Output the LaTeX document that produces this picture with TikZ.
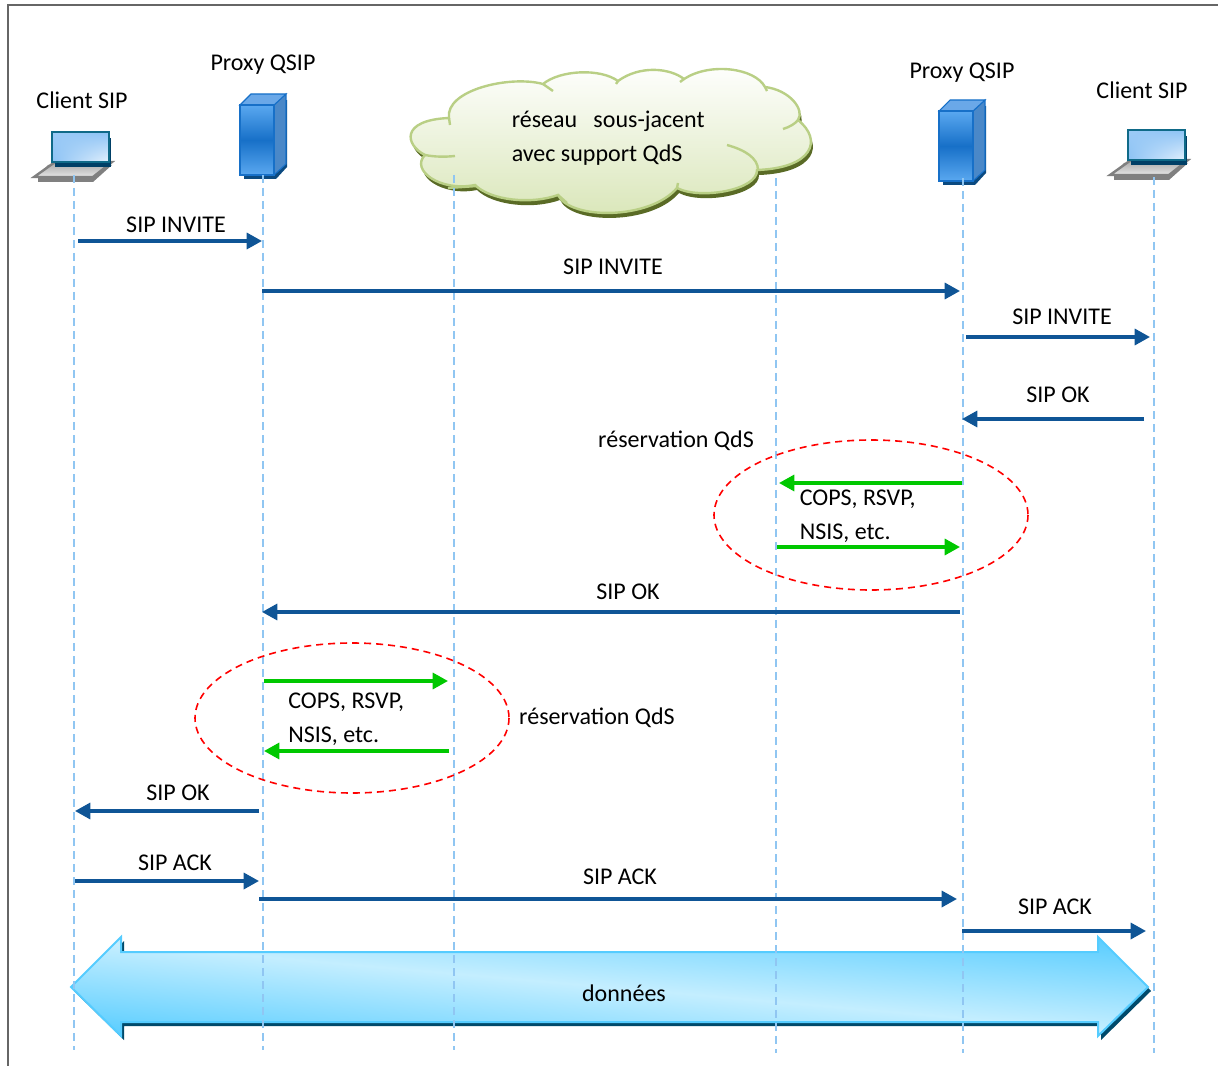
\documentclass[tikz,border=0pt]{standalone}
\usepackage{fontspec}
\setmainfont{Carlito}
\usepackage{tikz}
\usetikzlibrary{arrows.meta,shadings}

\definecolor{bleuMsg}{HTML}{0F5596}
\definecolor{vertResa}{HTML}{00C800}
\definecolor{bleuVie}{HTML}{90C6F2}
\definecolor{grisCadre}{HTML}{666666}
\definecolor{bordNuage}{HTML}{B9CF85}
\definecolor{basNuage}{HTML}{D9E6B8}
\definecolor{ombreNuage}{HTML}{5A6B26}
\definecolor{bordFleche}{HTML}{55CCFF}
\definecolor{clairFleche}{HTML}{C4EEFF}
\definecolor{ombreFleche}{HTML}{004A6B}
\definecolor{servClair}{HTML}{5AA8F0}
\definecolor{servFonce}{HTML}{1770C8}
\definecolor{servCote}{HTML}{4A88C8}
\definecolor{servHaut}{HTML}{6AA8E8}
\definecolor{servOmbre}{HTML}{0B4A80}
\definecolor{ecranBord}{HTML}{0F6A88}
\definecolor{ecranOmbre}{HTML}{003F66}

\tikzset{
	txt/.style={font=\fontsize{18}{25.5}\selectfont,inner sep=0pt,align=left,text=black},
	msgbleu/.style={line width=2.5pt,draw=bleuMsg,-{Triangle[length=11.5pt,width=12pt]}},
	msgvert/.style={line width=2.5pt,draw=vertResa,-{Triangle[length=11.5pt,width=12pt]}},
	viedash/.style={line width=1.5pt,draw=bleuVie,dash pattern=on 6pt off 3.75pt},
	resadash/.style={line width=1.2pt,draw=red,dash pattern=on 5.25pt off 3.75pt},
	servpic/.pic={
		\fill[fill=servOmbre] (4,0) -- (4,74) -- (36,74) -- (47,62) -- (47,-5) -- (30,0) -- cycle;
		\fill[fill=servCote,draw=servFonce,line width=0.8pt] (34,0) -- (46,-11) -- (46,59) -- (34,70) -- cycle;
		\fill[fill=servHaut,draw=servFonce,line width=0.8pt] (0,0) -- (11,-11) -- (46,-11) -- (34,0) -- cycle;
		\shade[top color=servClair,bottom color=servClair,middle color=servFonce,draw=servFonce,line width=1.2pt] (0,0) rectangle (34,70);
	},
	lappic/.pic={
		\fill[fill=black!50] (-14,45) -- (-4,33) -- (60,33) -- (41,50) -- (-14,50) -- cycle;
		\shade[top color=black!35,bottom color=black!10,draw=black!50,line width=1.8pt] (-18,45) -- (3,30) -- (60,30) -- (41,45) -- cycle;
		\fill[fill=ecranOmbre] (3,6) rectangle (59,35);
		\shade[upper left=servClair!60!white,upper right=servClair!70!white,lower left=servClair!70!white,lower right=servClair!15!white,draw=ecranBord,line width=1.2pt] (0,0) rectangle (57,30);
	},
}

\begin{document}
\begin{tikzpicture}[x=0.75pt,y=-0.75pt]
	%
	% Limites de l'image
	\def\figXmax{1218}
	\def\figYmax{1066}
	\useasboundingbox (0,0) rectangle (\figXmax,\figYmax);
	%
	% Cadre
	\draw[line width=1.5pt,draw=grisCadre] (7.5,\figYmax) -- (7.5,5) -- (\figXmax,5);
	%
	% Nuage
	\def\nuage{(449,118) .. controls (445,90) and (510,75) .. (543,84) .. controls (560,70) and (600,68) .. (618,81) .. controls (640,65) and (670,68) .. (684,79) .. controls (710,62) and (755,68) .. (765,87) .. controls (790,90) and (805,110) .. (798,120) .. controls (823,140) and (813,168) .. (757,170) .. controls (758,190) and (700,200) .. (677,188) .. controls (650,220) and (570,220) .. (558,195) .. controls (530,205) and (490,200) .. (475,185) .. controls (440,192) and (410,170) .. (425,155) .. controls (405,145) and (400,120) .. (449,118) -- cycle}
	\fill[fill=ombreNuage,shift={(2,5)}] \nuage;
	\shade[top color=white,bottom color=basNuage,draw=bordNuage,line width=1.8pt] \nuage;
	\draw[line width=1.8pt,draw=bordNuage] (543,84) -- (553,91) (449,118) -- (450,125) (425,155) .. controls (435,157) and (445,157) .. (455,156) (448,188) -- (477,186) (558,195) -- (567,203) (677,188) -- (678,183) (727,145) .. controls (745,150) and (758,158) .. (758,170) (783,129) .. controls (790,127) and (796,123) .. (798,120) (618,81) -- (616,84) (684,79) -- (680,82) (765,87) -- (767,91);
	%
	% Lignes de vie
	\foreach \vieNom/\vieX/\vieDeb/\vieFin in {a/73.5/175/1050,b/262.5/175/1050,c/453.5/175/1050,d/775.5/178/1053,e/962.5/178/1053,f/1153.5/177/1053}{
		\coordinate (haut\vieNom) at (\vieX,\vieDeb);
		\coordinate (bas\vieNom) at (\vieX,\vieFin);
	}
	%
	% Fleche de donnees
	\def\fleche{(71,987) -- (121,937) -- (121,952) -- (1098,952) -- (1098,937) -- (1148,987) -- (1098,1036) -- (1098,1022) -- (121,1022) -- (121,1036) -- cycle}
	\fill[fill=ombreFleche,shift={(3,4)}] \fleche;
	\begin{scope}
		\clip \fleche;
		\shade[transform canvas={rotate around={-5:(610,987)}},top color=bordFleche,bottom color=bordFleche,middle color=clairFleche] (-100,892) rectangle (1320,1082);
	\end{scope}
	\draw[line width=1.5pt,draw=bordFleche] \fleche;
	%
	% Icones
	\pic at (240,105) {servpic};
	\pic at (939,111) {servpic};
	\pic at (52,132) {lappic};
	\pic at (1128,130) {lappic};
	%
	\foreach \vieNom in {a,b,c,d,e,f}{
		\draw[viedash] (haut\vieNom) -- (bas\vieNom);
	}
	%
	% Ellipses de reservation
	\draw[resadash] (871,515) ellipse [x radius=157,y radius=75];
	\draw[resadash] (352,718) ellipse [x radius=157,y radius=75];
	%
	% Messages SIP
	\foreach \num/\xa/\xb/\ym/\xt/\yt/\lab in {
		1/78/262/241/176/225/SIP INVITE,
		2/262/960/291/613/267/SIP INVITE,
		3/966/1150/337/1062/317/SIP INVITE,
		4/1144/962/419/1058/395/SIP OK,
		5/960/262/612/628/592/SIP OK,
		6/259/75/811/178/793/SIP OK,
		7/75/259/881/175/863/SIP ACK,
		8/259/957/899/620/877/SIP ACK,
		9/962/1146/931/1055/907/SIP ACK}{
		\coordinate (dep\num) at (\xa,\ym);
		\coordinate (arr\num) at (\xb,\ym);
		\draw[msgbleu] (dep\num) -- (arr\num);
		\node[txt] (lab\num) at (\xt,\yt) {\lab};
	}
	%
	% Messages de reservation
	\foreach \num/\xa/\xb/\ym in {1/962/779/483,2/777/960/547,3/264/448/681,4/449/264/751}{
		\coordinate (depv\num) at (\xa,\ym);
		\coordinate (arrv\num) at (\xb,\ym);
		\draw[msgvert] (depv\num) -- (arrv\num);
	}
	%
	% Textes
	\node[txt] (clientG) at (82,100) {Client SIP};
	\node[txt] (clientD) at (1142,90) {Client SIP};
	\node[txt] (proxyG) at (263,65) {Proxy QSIP};
	\node[txt] (proxyD) at (962,73) {Proxy QSIP};
	\node[txt,anchor=west] (reseau) at (511.5,138) {réseau\ \ \ sous-jacent\\avec support QdS};
	\node[txt,anchor=west] (copsD) at (799.5,516) {COPS, RSVP,\\NSIS, etc.};
	\node[txt,anchor=west] (copsG) at (288,719) {COPS, RSVP,\\NSIS, etc.};
	\node[txt] (resaD) at (676,441) {réservation QdS};
	\node[txt] (resaG) at (597,718) {réservation QdS};
	\node[txt] (donnees) at (624,993) {données};
\end{tikzpicture}
\end{document}
